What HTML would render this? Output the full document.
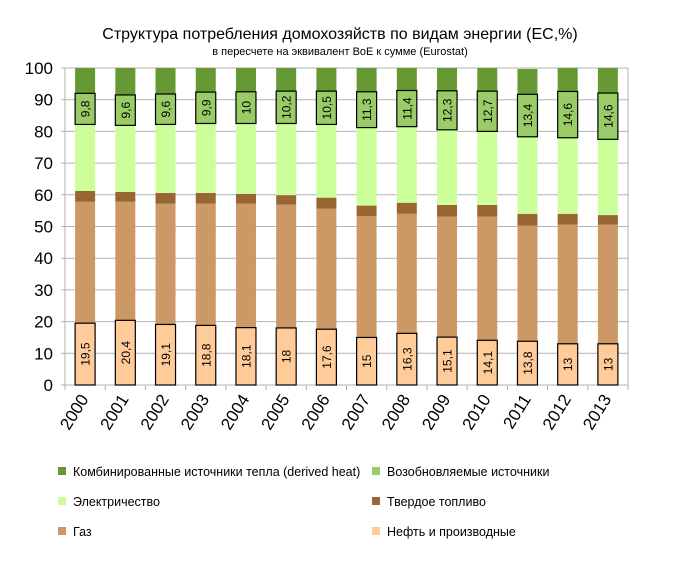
<!DOCTYPE html>
<html><head><meta charset="utf-8"><style>body{margin:0;background:#fff}svg{display:block}</style></head>
<body>
<svg id="s" width="676" height="569" xmlns="http://www.w3.org/2000/svg" font-family="Liberation Sans, sans-serif">
<text x="340" y="39" font-size="16" text-anchor="middle">Структура потребления домохозяйств по видам энергии (ЕС,%)</text>
<text x="340" y="55" font-size="11" text-anchor="middle">в пересчете на эквивалент BoE к сумме (Eurostat)</text>
<g id="grid" stroke="#b3b3b3" stroke-width="1"></g>
<g id="bars"></g>
<g id="lab" font-size="17"></g>
<g font-size="12.5">
<rect x="58" y="467" width="8" height="8" fill="#669933"/><text x="73" y="476">Комбинированные источники тепла (derived heat)</text>
<rect x="58" y="497" width="8" height="8" fill="#ccff99"/><text x="73" y="506">Электричество</text>
<rect x="58" y="527" width="8" height="8" fill="#cc9966"/><text x="73" y="536">Газ</text>
<rect x="372" y="467" width="8" height="8" fill="#99cc66"/><text x="387" y="476">Возобновляемые источники</text>
<rect x="372" y="497" width="8" height="8" fill="#996633"/><text x="387" y="506">Твердое топливо</text>
<rect x="372" y="527" width="8" height="8" fill="#ffcc99"/><text x="387" y="536">Нефть и производные</text>
</g>
</svg>
<script>
const d=[[19.5,57.8,61.2,82.2,92.0,100,"19,5","9,8"],[20.4,57.8,60.9,81.9,91.5,100,"20,4","9,6"],[19.1,57.2,60.6,82.2,91.8,100,"19,1","9,6"],[18.8,57.2,60.6,82.5,92.4,100,"18,8","9,9"],[18.1,57.2,60.3,82.5,92.5,100,"18,1","10"],[18,56.9,59.9,82.5,92.7,100,"18","10,2"],[17.6,55.6,59.1,82.2,92.7,100,"17,6","10,5"],[15,53.3,56.6,81.2,92.5,100,"15","11,3"],[16.3,54.0,57.5,81.5,92.9,100,"16,3","11,4"],[15.1,53.1,56.8,80.5,92.8,100,"15,1","12,3"],[14.1,53.1,56.8,80.0,92.7,100,"14,1","12,7"],[13.8,50.3,54.0,78.3,91.7,99.7,"13,8","13,4"],[13,50.6,54.0,78.0,92.6,100,"13","14,6"],[13,50.6,53.6,77.5,92.1,100,"13","14,6"]];
const Y=v=>385-v*3.17,L=65,R=628,W=(R-L)/14;let g='',b='',t='';
for(let i=0;i<=10;i++){const y=Y(i*10);g+=`<line x1="${L-4}" y1="${y}" x2="${R}" y2="${y}"/>`;t+=`<text x="53" y="${y+6}" text-anchor="end">${i*10}</text>`;}
g+=`<line x1="${L}" y1="${Y(100)}" x2="${L}" y2="390"/><line x1="${R}" y1="${Y(100)}" x2="${R}" y2="385"/>`;
for(let i=0;i<=14;i++){const x=L+i*W;g+=`<line x1="${x}" y1="385" x2="${x}" y2="390"/>`;}
const c=['#ffcc99','#cc9966','#996633','#ccff99','#99cc66','#669933'];
d.forEach((r,i)=>{const cx=L+W*(i+.5),x=cx-10;let p=0;
for(let k=0;k<6;k++){b+=`<rect x="${x}" y="${Y(r[k])}" width="20" height="${Y(p)-Y(r[k])}" fill="${c[k]}"/>`;p=r[k];}
b+=`<rect x="${x}" y="${Y(r[0])}" width="20" height="${Y(0)-Y(r[0])}" fill="none" stroke="#000" stroke-width="1.2"/>`;
b+=`<rect x="${x}" y="${Y(r[4])}" width="20" height="${Y(r[3])-Y(r[4])}" fill="none" stroke="#000" stroke-width="1.2"/>`;
const m1=(Y(0)+Y(r[0]))/2,m2=(Y(r[3])+Y(r[4]))/2;
b+=`<text font-size="12" text-anchor="middle" transform="translate(${cx+4.5},${m1}) rotate(-90)">${r[6]}</text>`;
b+=`<text font-size="12" text-anchor="middle" transform="translate(${cx+4.5},${m2}) rotate(-90)">${r[7]}</text>`;
t+=`<text text-anchor="end" transform="translate(${cx+4},399) rotate(-58)">${2000+i}</text>`;});
document.getElementById('grid').innerHTML=g;document.getElementById('bars').innerHTML=b;document.getElementById('lab').innerHTML=t;
</script>
</body></html>
